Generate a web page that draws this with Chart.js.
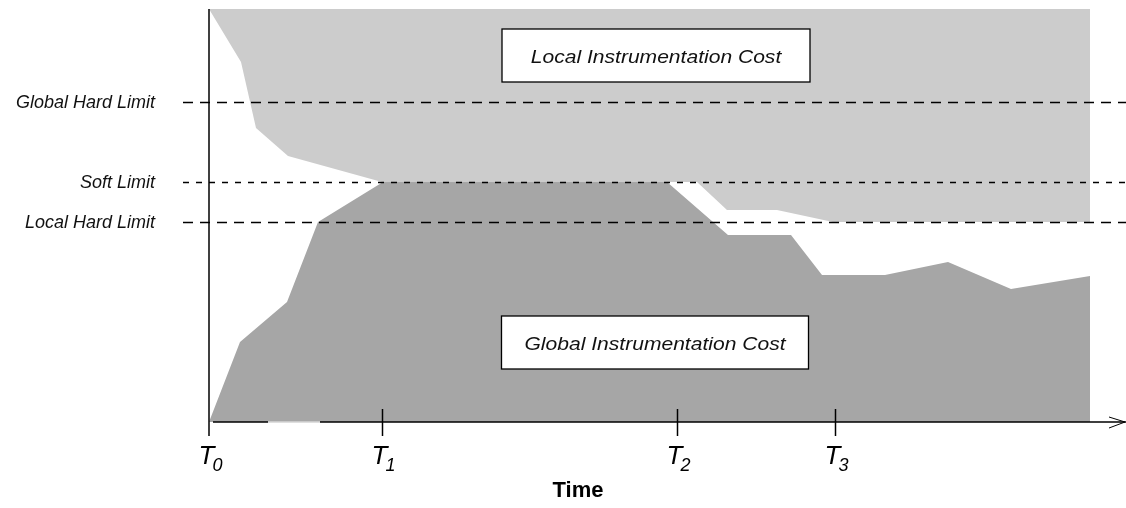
<!DOCTYPE html>
<html>
<head>
<meta charset="utf-8">
<script src="https://cdn.jsdelivr.net/npm/chart.js@4"></script>
<style>
    html, body { margin: 0; padding: 0; background: #fff; }
    #box { width: 1126px; height: 508px; }
</style>
</head>
<body>
<div id="box"><canvas id="costChart"></canvas></div>
<script>
// time in tenths of the axis, cost in arbitrary units (0 = x axis)
const globalTime = [0, 3.1, 7.8, 10.9, 17.4, 45.8, 51.9, 58.2, 61.3, 67.6, 73.9, 80.2, 88.1];
const globalCost = [0, 8.0, 12.0, 20.0, 24.0, 24.0, 18.7, 18.7, 14.7, 14.7, 16.0, 13.3, 14.6];
const localTime = [0, 3.2, 4.7, 7.9, 17.3, 48.8, 51.8, 56.8, 62.4, 88.1];
const localCost = [41.3, 36.0, 29.4, 26.6, 24.0, 24.0, 21.2, 21.2, 20.0, 20.0];
const limitNames = ["Global Hard Limit", "Soft Limit", "Local Hard Limit"];
const limitValues = [32.0, 24.0, 20.0];
const tickTimes = [0, 17.3, 46.8, 62.6];
const tickNames = ["0", "1", "2", "3"];
const timeMax = 91.7;
const costMax = 41.3;

const FONT = '"Liberation Sans", Arial, Helvetica, sans-serif';

function toPoints(xs, ys) {
    let pts = [];
    for (let i = 0; i < xs.length; i++) pts.push({ x: xs[i], y: ys[i] });
    return pts;
}

function drawBox(ctx, cx, cy, w, h, text) {
    ctx.fillStyle = "#fff";
    ctx.fillRect(cx - w / 2, cy - h / 2, w, h);
    ctx.strokeStyle = "#000";
    ctx.lineWidth = 1.3;
    ctx.setLineDash([]);
    ctx.strokeRect(cx - w / 2, cy - h / 2, w, h);
    ctx.fillStyle = "#111";
    ctx.font = "italic 18px " + FONT;
    ctx.textAlign = "center";
    ctx.textBaseline = "middle";
    ctx.save();
    ctx.translate(cx, cy + 2);
    ctx.scale(1.17, 1);
    ctx.fillText(text, 0, 0);
    ctx.restore();
}

const overlay = {
    id: "overlay",
    afterDatasetsDraw(chart) {
        let ctx = chart.ctx;
        let sx = chart.scales.x;
        let sy = chart.scales.y;
        let left = sx.getPixelForValue(0);
        let base = sy.getPixelForValue(0);
        let top = sy.getPixelForValue(costMax);
        let right = chart.width;
        ctx.save();

        // limit lines and their names
        let dashes = [[10, 7], [6, 7], [10, 7]];
        for (let i = 0; i < limitValues.length; i++) {
            let y = Math.round(sy.getPixelForValue(limitValues[i])) + 0.5;
            ctx.strokeStyle = "#000";
            ctx.lineWidth = 1.3;
            ctx.setLineDash(dashes[i]);
            ctx.beginPath();
            ctx.moveTo(left - 26, y);
            ctx.lineTo(right, y);
            ctx.stroke();
            ctx.fillStyle = "#111";
            ctx.font = "italic 18px " + FONT;
            ctx.textAlign = "right";
            ctx.textBaseline = "middle";
            ctx.fillText(limitNames[i], left - 54, y);
        }
        ctx.setLineDash([]);

        // y axis
        ctx.strokeStyle = "#000";
        ctx.lineWidth = 1.5;
        ctx.beginPath();
        ctx.moveTo(left, top);
        ctx.lineTo(left, base + 14);
        ctx.stroke();

        // x axis with a pale piece near the origin and an open arrow
        let gapA = sx.getPixelForValue(5.9);
        let gapB = sx.getPixelForValue(11.1);
        ctx.beginPath();
        ctx.moveTo(left + 4, base);
        ctx.lineTo(gapA, base);
        ctx.moveTo(gapB, base);
        ctx.lineTo(right, base);
        ctx.stroke();
        ctx.strokeStyle = "#d4d4d4";
        ctx.beginPath();
        ctx.moveTo(gapA, base);
        ctx.lineTo(gapB, base);
        ctx.stroke();
        ctx.strokeStyle = "#000";
        ctx.lineWidth = 1;
        ctx.beginPath();
        ctx.moveTo(right - 17, base - 5);
        ctx.lineTo(right - 1, base);
        ctx.lineTo(right - 17, base + 6);
        ctx.stroke();

        // ticks and T labels
        ctx.lineWidth = 1.5;
        for (let i = 0; i < tickTimes.length; i++) {
            let x = Math.round(sx.getPixelForValue(tickTimes[i])) + 0.5;
            if (i > 0) {
                ctx.beginPath();
                ctx.moveTo(x, base - 13);
                ctx.lineTo(x, base + 14);
                ctx.stroke();
            }
            ctx.fillStyle = "#000";
            ctx.textAlign = "left";
            ctx.textBaseline = "alphabetic";
            ctx.font = "italic 26px " + FONT;
            ctx.fillText("T", x - 11, base + 42);
            let w = ctx.measureText("T").width;
            ctx.font = "italic 18px " + FONT;
            ctx.fillText(tickNames[i], x - 11 + w - 2, base + 49);
        }

        ctx.font = "bold 22px " + FONT;
        ctx.textAlign = "center";
        ctx.textBaseline = "middle";
        ctx.fillText("Time", 578, base + 69);

        drawBox(ctx, sx.getPixelForValue(44.7), sy.getPixelForValue(36.65), 308, 53, "Local Instrumentation Cost");
        drawBox(ctx, sx.getPixelForValue(44.6), sy.getPixelForValue(7.95), 307, 53, "Global Instrumentation Cost");
        ctx.restore();
    }
};

let chart = new Chart(document.getElementById("costChart"), {
    type: "line",
    data: {
        datasets: [
            {
                label: "Global Instrumentation Cost",
                data: toPoints(globalTime, globalCost),
                backgroundColor: "#a6a6a6",
                borderWidth: 0,
                pointRadius: 0,
                fill: "origin",
                tension: 0,
            },
            {
                label: "Local Instrumentation Cost",
                data: toPoints(localTime, localCost),
                backgroundColor: "#cccccc",
                borderWidth: 0,
                pointRadius: 0,
                fill: "end",
                tension: 0,
            },
        ],
    },
    options: {
        responsive: true,
        maintainAspectRatio: false,
        animation: false,
        layout: { padding: { left: 209, right: 0, top: 9, bottom: 86 } },
        plugins: { legend: { display: false }, tooltip: { enabled: false } },
        scales: {
            x: { type: "linear", min: 0, max: timeMax, display: false },
            y: { type: "linear", min: 0, max: costMax, display: false },
        },
    },
    plugins: [overlay],
});
</script>
</body>
</html>
